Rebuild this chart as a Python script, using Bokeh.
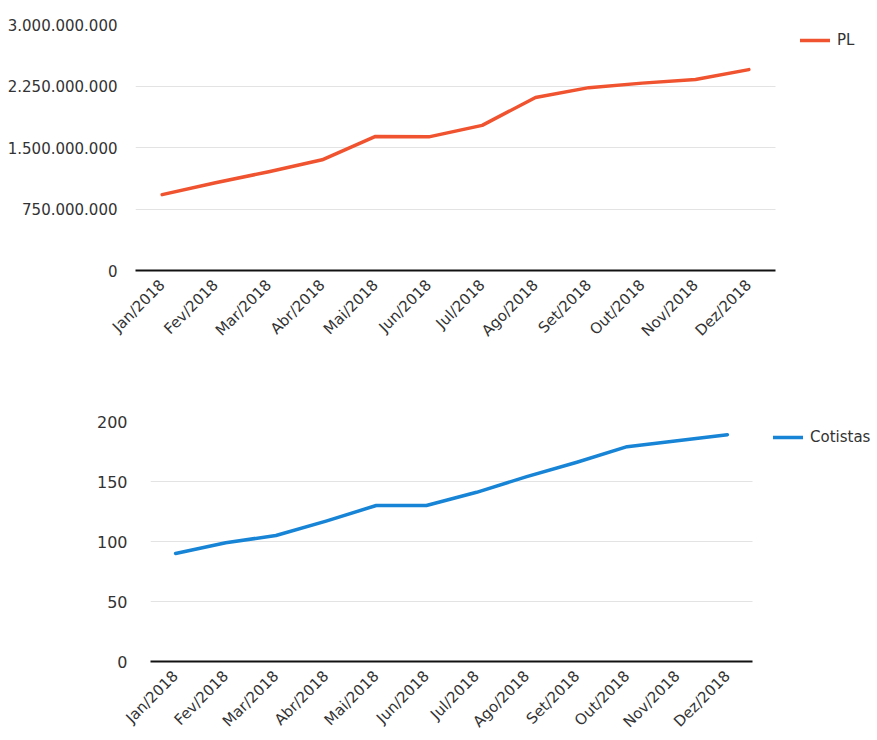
import math
from bokeh.plotting import figure
from bokeh.models import (Range1d, FixedTicker, Legend, LegendItem, ColumnDataSource)
from bokeh.embed import file_html
from bokeh.resources import INLINE

months = ["Jan/2018", "Fev/2018", "Mar/2018", "Abr/2018", "Mai/2018", "Jun/2018",
          "Jul/2018", "Ago/2018", "Set/2018", "Out/2018", "Nov/2018", "Dez/2018"]
pl_values = [925e6, 1070e6, 1205e6, 1350e6, 1635e6, 1630e6,
             1770e6, 2110e6, 2230e6, 2285e6, 2330e6, 2450e6]
cotistas_values = [90, 99, 105, 117, 130, 130, 141, 154, 166, 179, 184, 189]
pl_ticks = [0, 750_000_000, 1_500_000_000, 2_250_000_000, 3_000_000_000]
cot_ticks = [0, 50, 100, 150, 200]

FONT = "DejaVu Sans"
PL_COLOR = "#f0532f"
COT_COLOR = "#1784d6"
W = 877


def fmt(v):
    return f"{int(v):,}".replace(",", ".")


def make_fig(values, ticks, color, name, height, border_left, cat_w, border_top,
             border_bottom, label_standoff, ylab_size, leg_xy):
    n = len(months)
    idx = list(range(n))
    unit = cat_w / n
    frame_w = W - border_left
    x_end = -0.5 + frame_w / unit
    p = figure(x_range=Range1d(-0.5, x_end),
               y_range=Range1d(ticks[0], ticks[-1]),
               width=W, height=height, output_backend="svg",
               toolbar_location=None, tools="")
    p.min_border_left = border_left
    p.min_border_right = 0
    p.min_border_top = border_top
    p.min_border_bottom = border_bottom
    p.outline_line_color = None
    p.background_fill_color = "white"
    p.border_fill_color = "white"

    src = ColumnDataSource(dict(x=idx, y=values))
    r = p.line("x", "y", source=src, line_color=color, line_width=3.5,
               line_join="round", line_cap="round")

    p.xgrid.grid_line_color = None
    p.ygrid.grid_line_color = "#e3e3e3"
    p.ygrid.grid_line_width = 1
    p.ygrid.ticker = FixedTicker(ticks=ticks)
    p.ygrid.cross_bounds = (-0.5, n - 0.5)

    ya = p.yaxis[0]
    ya.ticker = FixedTicker(ticks=ticks)
    ya.major_label_overrides = {t: fmt(t) for t in ticks}
    ya.axis_line_color = None
    ya.major_tick_line_color = None
    ya.minor_tick_line_color = None
    ya.major_label_text_font = FONT
    ya.major_label_text_font_size = ylab_size
    ya.major_label_text_color = "#333333"
    ya.major_label_standoff = label_standoff

    xa = p.xaxis[0]
    xa.ticker = FixedTicker(ticks=idx)
    xa.major_label_overrides = {i: m for i, m in zip(idx, months)}
    xa.bounds = (-0.5, n - 0.5)
    xa.axis_line_color = "#111111"
    xa.axis_line_width = 2
    xa.major_tick_line_color = None
    xa.minor_tick_line_color = None
    xa.major_label_orientation = math.pi / 4
    xa.major_label_text_font = FONT
    xa.major_label_text_font_size = "15px"
    xa.major_label_text_color = "#333333"
    xa.major_label_standoff = 6

    leg = Legend(items=[LegendItem(label=name, renderers=[r])],
                 location=leg_xy, orientation="vertical",
                 border_line_color=None, background_fill_alpha=0,
                 padding=0, margin=0, glyph_width=30, glyph_height=20,
                 label_standoff=7, label_text_font=FONT,
                 label_text_font_size="15px", label_text_color="#333333")
    p.add_layout(leg, "center")
    return p


top = make_fig(pl_values, pl_ticks, PL_COLOR, "PL", height=349, border_left=135,
               cat_w=640, border_top=24, border_bottom=79, label_standoff=12,
               ylab_size="15px", leg_xy=(665, 220))
bottom = make_fig(cotistas_values, cot_ticks, COT_COLOR, "Cotistas", height=391,
                  border_left=150, cat_w=602, border_top=72, border_bottom=79,
                  label_standoff=17, ylab_size="16px", leg_xy=(623, 214))

open("out.html", "w").write(file_html([top, bottom], INLINE))
